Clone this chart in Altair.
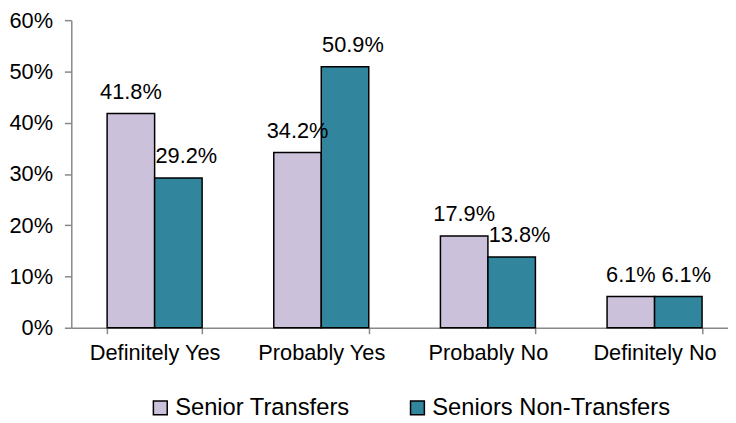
import altair as alt
import pandas as pd

categories = ["Definitely Yes", "Probably Yes", "Probably No", "Definitely No"]
series = ["Senior Transfers", "Seniors Non-Transfers"]
senior_transfers = [41.8, 34.2, 17.9, 6.1]
seniors_non_transfers = [29.2, 50.9, 13.8, 6.1]
colors = ["#CCC1DA", "#31859C"]
y_ticks = [0, 0.1, 0.2, 0.3, 0.4, 0.5, 0.6]

rows = []
for c, a, b in zip(categories, senior_transfers, seniors_non_transfers):
    rows.append({"category": c, "series": series[0], "value": a / 100})
    rows.append({"category": c, "series": series[1], "value": b / 100})
df = pd.DataFrame(rows)

FONT = "Liberation Sans"
AXIS_GRAY = "#888888"

x_enc = alt.X(
    "category:N",
    sort=categories,
    title=None,
    scale=alt.Scale(range=[0, 674], paddingInner=0.43, paddingOuter=0.215),
    axis=alt.Axis(
        labelAngle=0,
        tickBand="extent",
        tickSize=6,
        tickColor=AXIS_GRAY,
        tickWidth=1.5,
        domainColor=AXIS_GRAY,
        domainWidth=1.5,
        labelPadding=9,
        labelFont=FONT,
        labelFontSize=22,
        labelColor="black",
        grid=False,
    ),
)
y_enc = alt.Y(
    "value:Q",
    title=None,
    scale=alt.Scale(domain=[0, 0.6], nice=False),
    axis=alt.Axis(
        values=y_ticks,
        format=".0%",
        tickSize=7,
        tickColor=AXIS_GRAY,
        tickWidth=1.5,
        domainColor=AXIS_GRAY,
        domainWidth=1.5,
        labelPadding=12,
        labelFont=FONT,
        labelFontSize=22,
        labelColor="black",
        grid=False,
    ),
)
xoff = alt.XOffset("series:N", sort=series)

bars = alt.Chart(df).mark_bar(stroke="black", strokeWidth=1.5).encode(
    x=x_enc,
    y=y_enc,
    xOffset=xoff,
    color=alt.Color(
        "series:N",
        sort=series,
        scale=alt.Scale(domain=series, range=colors),
        legend=alt.Legend(
            title=None,
            orient="none",
            legendX=78,
            legendY=380,
            direction="horizontal",
            symbolType="square",
            symbolSize=196,
            symbolStrokeColor="black",
            symbolStrokeWidth=1.5,
            symbolOpacity=1,
            labelFont=FONT,
            labelFontSize=24,
            labelColor="black",
            labelOffset=3,
            labelLimit=0,
            columnPadding=56,
            padding=0,
        ),
    ),
)

base_text = alt.Chart(df).encode(
    x=x_enc,
    y=y_enc,
    xOffset=xoff,
    text=alt.Text("value:Q", format=".1%"),
)
labels_a = base_text.transform_filter(alt.datum.series == series[0]).mark_text(
    baseline="alphabetic", dy=-15, font=FONT, fontSize=22, color="black"
)
labels_b = base_text.transform_filter(alt.datum.series == series[1]).mark_text(
    baseline="alphabetic", dy=-15, dx=8, font=FONT, fontSize=22, color="black"
)

chart = (
    alt.layer(bars, labels_a, labels_b)
    .properties(
        width=664,
        height=311,
        autosize=alt.AutoSizeParams(type="none"),
        padding={"left": 64, "top": 10, "right": 0, "bottom": 94},
    )
    .configure_view(stroke=None)
)

chart.save("out.html", embed_options={"renderer": "svg", "actions": False})
